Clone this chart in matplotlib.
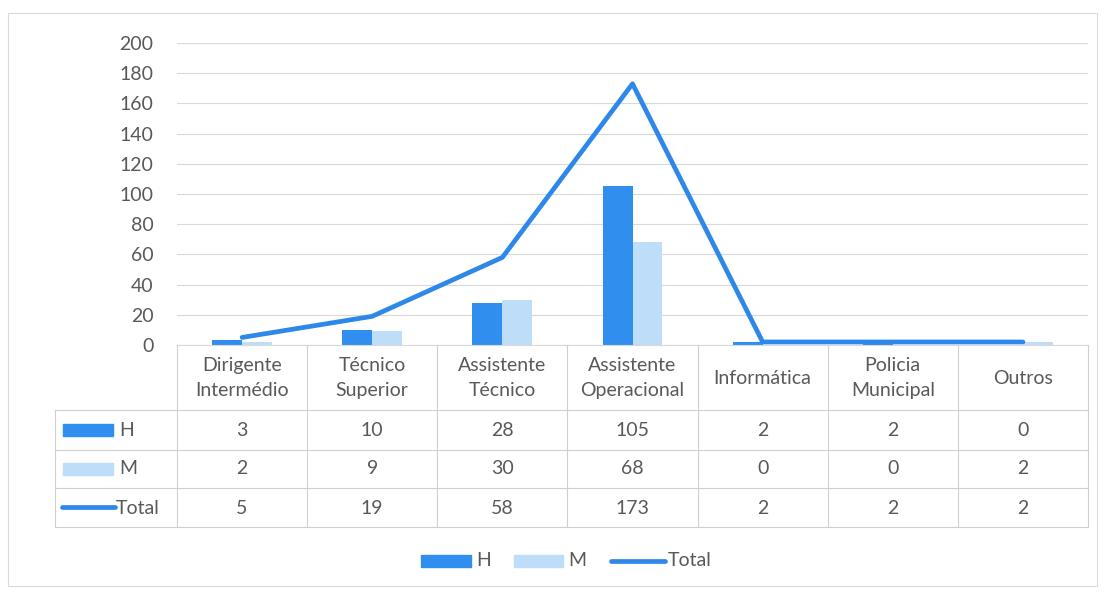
import matplotlib
matplotlib.use("Agg")
import matplotlib.pyplot as plt
from matplotlib.patches import Rectangle
from matplotlib.lines import Line2D
import matplotlib.transforms as mtransforms

categories = ["Dirigente\nIntermédio", "Técnico\nSuperior", "Assistente\nTécnico",
              "Assistente\nOperacional", "Informática", "Policia\nMunicipal", "Outros"]
H = [3, 10, 28, 105, 2, 2, 0]
M = [2, 9, 30, 68, 0, 0, 2]
Total = [5, 19, 58, 173, 2, 2, 2]
yticks = [0, 20, 40, 60, 80, 100, 120, 140, 160, 180, 200]

c_h = "#2F8EEE"
c_m = "#BEDDF8"
c_line = "#2E88EA"
c_text = "#595959"
c_grid = "#D9D9D9"

plt.rcParams['font.family'] = ['Lato', 'DejaVu Sans']

W, Hpx = 1105, 593
fig = plt.figure(figsize=(W / 100, Hpx / 100), dpi=100)

def fx(px):
    return px / W

def fy(py):
    return 1 - py / Hpx

def rect_px(xa, ya, xb, yb, color):
    fig.patches.append(Rectangle((fx(xa), fy(yb)), fx(xb) - fx(xa), fy(ya) - fy(yb),
                                 transform=fig.transFigure, color=color))

# outer border
fig.patches.append(Rectangle((fx(8), fy(586)), fx(1097) - fx(8), fy(13) - fy(586),
                             transform=fig.transFigure, fill=False, edgecolor="#DADADA", lw=0.8))

x0, x1, ytop, ybot = 177, 1088, 43, 345
ax = fig.add_axes([fx(x0), fy(ybot), fx(x1) - fx(x0), fy(ytop) - fy(ybot)])
n = len(categories)
xs = list(range(n))
bw = 0.23
ax.bar([x - bw / 2 for x in xs], H, width=bw, color=c_h, zorder=2)
ax.bar([x + bw / 2 for x in xs], M, width=bw, color=c_m, zorder=2)
ax.plot(xs, Total, color=c_line, lw=3.4, solid_capstyle='round', zorder=3)
ax.set_xlim(-0.5, n - 0.5)
ax.set_ylim(0, 200)
ax.set_yticks(yticks)
ax.set_yticklabels([str(v) for v in yticks])
ax.tick_params(axis='y', length=0, labelsize=14, labelcolor=c_text, pad=17)
ax.set_xticks([])
ax.grid(axis='y', color=c_grid, lw=0.8, zorder=0)
for s in ['top', 'right', 'left']:
    ax.spines[s].set_visible(False)
ax.spines['bottom'].set_color(c_grid)

# data table below the axes
trans = mtransforms.blended_transform_factory(ax.transData, fig.transFigure)
row_lines = [410, 450, 488, 527]
tab_left = 55
lc = "#D0D0D0"
for yl in row_lines:
    fig.add_artist(Line2D([fx(tab_left), fx(x1)], [fy(yl), fy(yl)], color=lc, lw=0.8,
                          transform=fig.transFigure))
for b in range(n + 1):
    xb = b - 0.5
    fig.add_artist(Line2D([xb, xb], [fy(ybot), fy(527)], color=lc, lw=0.8, transform=trans))
fig.add_artist(Line2D([fx(tab_left), fx(tab_left)], [fy(410), fy(527)], color=lc, lw=0.8,
                      transform=fig.transFigure))

fs = 14
for i, cat in enumerate(categories):
    fig.text(i, fy(378), cat, transform=trans, ha='center', va='center', fontsize=fs,
             color=c_text, linespacing=1.6)
row_y = [430, 469, 508]
for vals, yy in zip([H, M, Total], row_y):
    for i, v in enumerate(vals):
        fig.text(i, fy(yy), str(v), transform=trans, ha='center', va='center', fontsize=fs,
                 color=c_text)

# row headers with legend keys
rect_px(63, 424, 113, 436, c_h)
rect_px(63, 463, 113, 475, c_m)
fig.add_artist(Line2D([fx(62), fx(115)], [fy(507), fy(507)], color=c_line, lw=3.4,
                      solid_capstyle='round', transform=fig.transFigure))
fig.text(fx(119), fy(430), "H", ha='left', va='center', fontsize=fs, color=c_text)
fig.text(fx(119), fy(469), "M", ha='left', va='center', fontsize=fs, color=c_text)
fig.text(fx(116), fy(508), "Total", ha='left', va='center', fontsize=fs, color=c_text)

# legend
ly = 561
rect_px(421, ly - 6, 471, ly + 6, c_h)
fig.text(fx(476), fy(ly), "H", ha='left', va='center', fontsize=fs, color=c_text)
rect_px(514, ly - 6, 563, ly + 6, c_m)
fig.text(fx(568), fy(ly), "M", ha='left', va='center', fontsize=fs, color=c_text)
fig.add_artist(Line2D([fx(611), fx(665)], [fy(ly), fy(ly)], color=c_line, lw=3.4,
                      solid_capstyle='round', transform=fig.transFigure))
fig.text(fx(668), fy(ly), "Total", ha='left', va='center', fontsize=fs, color=c_text)

fig.savefig("out.png", dpi=100, facecolor="white")
